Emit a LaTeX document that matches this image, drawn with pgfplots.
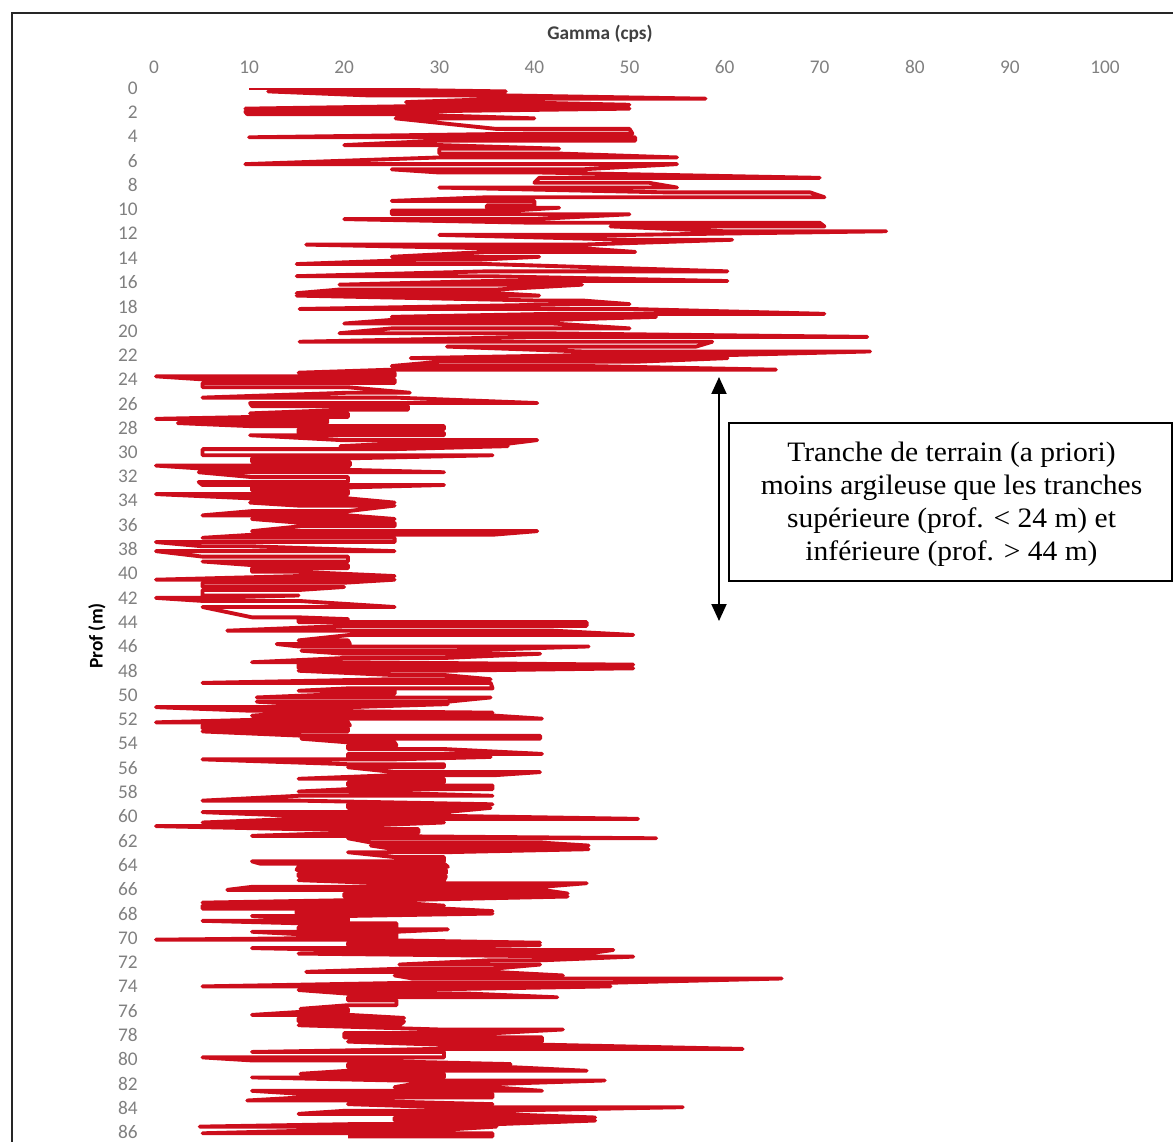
\documentclass[border=0pt]{standalone}
\usepackage{fontspec}
\setmainfont{Liberation Serif}
\newfontfamily\calibri{Carlito}
\usepackage{pgfplots}
\pgfplotsset{compat=1.18}
\usetikzlibrary{arrows.meta}
\definecolor{logred}{RGB}{204,14,28}
\definecolor{ticklab}{RGB}{128,128,128}
\begin{document}
\begin{tikzpicture}
\useasboundingbox (0,0) rectangle (234.6mm,-228.4mm);
\draw[line width=0.45mm, black!85] (2.4mm,-228.4mm) -- (2.4mm,-2.6mm) -- (234.6mm,-2.6mm);
\begin{axis}[
  at={(30.8mm,-17.6mm)}, anchor=north west,
  width=190.2mm, height=210.8mm, scale only axis,
  xmin=0, xmax=100, ymin=0, ymax=86.82, y dir=reverse,
  xtick={0,10,...,100}, ytick={0,2,...,86},
  xticklabel pos=right,
  axis line style={draw=none}, major tick style={draw=none},
  tick label style={font=\calibri\fontsize{11}{13}\selectfont, text=ticklab},
  /pgf/number format/assume math mode=true,
  xticklabel style={yshift=1.6mm},
  yticklabel style={xshift=-2mm},
  clip=true,
]
\addplot[logred, line width=2.2pt, line join=round] coordinates {
(10,0) (12,0) (37,0.28) (12,0.28) (22.5,0.61) (37,0.61) (58,0.88) (37,0.88)
(26.5,1.16) (37,1.16) (50,1.38) (37,1.38) (9.6,1.7) (50,1.7) (25.4,1.95) (9.6,1.95)
(9.8,2.15) (25.4,2.15) (40,2.5) (25.4,2.5) (36,3.37) (50,3.37) (50.3,3.75) (40,3.75)
(10,4.06) (50.6,4.06) (50.6,4.34) (30,4.34) (20,4.7) (30,4.7) (42.6,5.0) (30,5.0)
(30,5.4) (42.6,5.4) (55,5.72) (30,5.72) (9.6,6.27) (55,6.27) (45,6.7) (25,6.7)
(30,6.96) (40.5,6.96) (70,7.4) (40.5,7.4) (40,7.8) (52,7.8) (55,8.2) (30,8.2)
(54,8.6) (69,8.6) (70.5,9.0) (35,9.0) (25,9.3) (40,9.3) (40,9.67) (35,9.67)
(35,9.86) (42.6,9.86) (37.6,10.1) (25,10.1) (25,10.4) (50,10.4) (40,10.8) (20,10.8)
(40,11.1) (70,11.1) (70.5,11.4) (48,11.4) (60,11.8) (77,11.8) (50,12.1) (30,12.1)
(50,12.5) (60.8,12.5) (45,12.9) (16,12.9) (35,13.2) (45,13.2) (50.6,13.5) (35,13.5)
(25,13.9) (40.5,13.9) (34,14.15) (27.6,14.15) (15,14.5) (35,14.5) (60.3,15.1) (35,15.1)
(15,15.5) (35,15.5) (60.3,15.9) (35,15.9) (19.5,16.2) (45,16.2) (36,16.6) (19.5,16.6)
(15,16.9) (36,16.9) (40.5,17.1) (15,17.1) (40,17.5) (45,17.5) (50,17.8) (45,17.8)
(15.3,18.2) (50,18.2) (70.5,18.6) (42,18.6) (25,18.85) (52.8,18.85) (42,19.1) (25,19.1)
(20,19.4) (42,19.4) (50,19.8) (25,19.8) (19.5,20.2) (40.5,20.2) (75,20.5) (40,20.5)
(15.3,20.9) (58.7,20.9) (57,21.3) (30.8,21.3) (45,21.7) (75.3,21.7) (60.3,22.0) (45,22.0)
(27,22.25) (60.3,22.25) (50.6,22.55) (30,22.55) (25,22.9) (45.5,22.9) (65.4,23.2) (25,23.2)
(15.2,23.45) (25.3,23.45) (25.3,23.75) (0.2,23.75) (5.1,24.0) (25.3,24.0) (25.3,24.3) (5.1,24.3)
(5.1,24.65) (20.4,24.65) (26.9,25.1) (20.4,25.1) (5.1,25.5) (25.3,25.5) (40.3,25.95) (10.1,25.95)
(10.3,26.2) (26.7,26.2) (26.7,26.5) (20.4,26.5) (10.1,26.8) (20.4,26.8) (20.4,27.1) (10.1,27.1)
(0.2,27.25) (18.2,27.25) (18.2,27.6) (2.5,27.6) (10.1,27.85) (30.5,27.85) (30.5,28.1) (15.2,28.1)
(15.2,28.4) (30.5,28.4) (30.5,28.6) (10.1,28.6) (19.6,29.0) (40.3,29.0) (37.2,29.3) (25.1,29.3)
(19.6,29.5) (37.2,29.5) (25.1,29.75) (5.1,29.75) (5.1,30.25) (35.6,30.25) (20.6,30.5) (10.3,30.5)
(10.3,30.8) (20.6,30.8) (20.6,31.1) (0.2,31.1) (5.1,31.35) (15.2,31.35) (30.5,31.65) (4.7,31.65)
(10.3,32.05) (20.4,32.05) (20.4,32.45) (4.7,32.45) (5.1,32.7) (30.5,32.7) (20.4,32.9) (10.3,32.9)
(10.3,33.15) (20.4,33.15) (20.4,33.45) (0.2,33.45) (10.1,33.8) (20.4,33.8) (25.3,34.15) (10.1,34.15)
(15.2,34.4) (25.3,34.4) (20.4,34.85) (10.3,34.85) (5.1,35.2) (20.4,35.2) (25.3,35.5) (10.3,35.5)
(15.2,35.8) (25.3,35.8) (25.3,36.1) (15.4,36.1) (10.3,36.5) (40.3,36.5) (35.6,36.8) (10.3,36.8)
(5.1,37.05) (25.3,37.05) (25.3,37.4) (0.2,37.4) (5.1,37.75) (10.3,37.75) (25.3,38.15) (0.2,38.15)
(5.1,38.6) (20.4,38.6) (20.4,39.0) (5.1,39.0) (10.3,39.3) (20.4,39.3) (20.4,39.55) (10.3,39.55)
(10.3,39.85) (15.2,39.85) (25.3,40.2) (15.2,40.2) (0.2,40.5) (25.3,40.5) (20,40.75) (5.1,40.75)
(5.1,41.1) (20,41.1) (15.2,41.35) (5.1,41.35) (5.1,41.8) (15.2,41.8) (5.1,42.0) (0.2,42.0)
(5.1,42.25) (15.2,42.25) (25.3,42.75) (5.1,42.75) (10.3,43.6) (15.2,43.6) (20.4,43.75) (15.2,43.75)
(15.2,44.0) (45.5,44.0) (45.5,44.3) (20.4,44.3) (7.7,44.7) (42,44.7) (50.4,45.05) (20.6,45.05)
(15.2,45.5) (20.4,45.5) (20.6,45.8) (12.9,45.8) (15.2,46.0) (45.7,46.0) (31.8,46.35) (15.5,46.35)
(20,46.6) (40.6,46.6) (30.5,46.95) (20,46.95) (10.3,47.3) (20.4,47.3) (50.4,47.5) (15.2,47.5)
(15.2,47.8) (50.4,47.8) (30.5,48.0) (15.2,48.0) (25,48.35) (30.5,48.35) (35.4,48.7) (25,48.7)
(5.1,49.0) (35.4,49.0) (35.6,49.45) (20.4,49.45) (15.2,49.65) (25.3,49.65) (25.3,49.9) (20.4,49.9)
(10.8,50.2) (35.4,50.2) (30.9,50.55) (10.8,50.55) (15.2,50.75) (30.9,50.75) (20.6,51.0) (0.2,51.0)
(10.3,51.3) (15,51.3) (35.6,51.45) (15,51.45) (10.3,51.7) (35.9,51.7) (40.8,51.95) (15.2,51.95)
(0.2,52.25) (20.4,52.25) (20.6,52.5) (5.1,52.5) (5.1,52.75) (20.4,52.75) (20.4,53.0) (5.1,53.0)
(15.5,53.35) (40.6,53.35) (40.6,53.6) (15.5,53.6) (20.4,53.9) (25.3,53.9) (25.5,54.15) (20.4,54.15)
(20.4,54.45) (30.5,54.45) (40.8,54.85) (20.4,54.85) (20.4,55.1) (35.4,55.1) (25.3,55.3) (5.1,55.3)
(20.4,55.7) (30.5,55.7) (30.5,55.95) (20.4,55.95) (25.3,56.35) (40.6,56.35) (35.9,56.6) (25.3,56.6)
(15.2,56.9) (30.5,56.9) (30.5,57.2) (20.4,57.2) (20.4,57.45) (35.6,57.45) (35.6,57.75) (20.4,57.75)
(15.2,57.95) (20.4,57.95) (35.6,58.3) (15.2,58.3) (5.1,58.7) (15.2,58.7) (35.6,59.0) (20.4,59.0)
(20.4,59.3) (35.4,59.3) (30.5,59.65) (5.1,59.65) (15,59.95) (30.5,59.95) (50.9,60.2) (15,60.2)
(5.1,60.5) (30.5,60.5) (20.6,60.8) (0.2,60.8) (15.2,61.05) (27.8,61.05) (27.8,61.35) (20.4,61.35)
(10.3,61.6) (20.4,61.6) (52.8,61.8) (20.4,61.8) (22.8,62.15) (40.6,62.15) (45.7,62.4) (22.8,62.4)
(25.3,62.7) (45.7,62.7) (30.5,62.95) (20.4,62.95) (25.3,63.35) (30.5,63.35) (30.5,63.7) (10.3,63.7)
(11.2,63.9) (30.5,63.9) (30.9,64.15) (15.2,64.15) (15,64.4) (30.7,64.4) (30.7,64.7) (15.2,64.7)
(15.2,64.95) (30.7,64.95) (30.5,65.25) (15.2,65.25) (24.2,65.5) (45.5,65.5) (40.8,65.8) (10.3,65.8)
(7.7,66.05) (40.8,66.05) (43.5,66.35) (20,66.35) (20,66.6) (43.5,66.6) (25.5,66.9) (20.4,66.9)
(5.1,67.1) (25.5,67.1) (30.5,67.35) (5.1,67.35) (5.1,67.6) (30.7,67.6) (35.6,67.8) (15,67.8)
(15,68.0) (35.6,68.0) (20.4,68.2) (10.3,68.2) (15.2,68.4) (20.4,68.4) (20.4,68.6) (5.1,68.6)
(15.2,68.8) (25.5,68.8) (25.5,69.1) (15.2,69.1) (15.2,69.3) (30.9,69.3) (25.5,69.5) (10.3,69.5)
(15.2,69.7) (25.5,69.7) (25.5,70.0) (20.4,70.0) (0.2,70.15) (20.4,70.15) (40.6,70.4) (20.4,70.4)
(20.4,70.6) (40.6,70.6) (20.4,70.85) (10.3,70.85) (20.4,71.0) (48.3,71.0) (45.5,71.3) (15.2,71.3)
(45.5,71.55) (50.4,71.55) (40.8,71.85) (35.4,71.85) (25.8,72.2) (40.6,72.2) (35.6,72.55) (25.8,72.55)
(16,72.8) (35.6,72.8) (43,73.1) (25.3,73.1) (27.2,73.35) (66,73.35) (48,73.7) (27.2,73.7)
(5.1,74.0) (48,74.0) (25.3,74.3) (15.2,74.3) (20.4,74.6) (33.3,74.6) (42.4,74.9) (20.4,74.9)
(20.4,75.15) (25.5,75.15) (25.5,75.55) (20.4,75.55) (15.4,75.85) (20.4,75.85) (20.4,76.1) (15.4,76.1)
(10.3,76.35) (20.6,76.35) (26.3,76.6) (15.2,76.6) (15.2,76.9) (26.3,76.9) (25.8,77.2) (15.2,77.2)
(30,77.55) (43,77.55) (35.9,77.85) (20,77.85) (20,78.2) (40.8,78.2) (40.8,78.55) (20.4,78.55)
(30,78.8) (40.8,78.8) (61.9,79.15) (30,79.15) (10.3,79.4) (30.5,79.4) (30.5,79.85) (5.1,79.85)
(10.3,80.1) (20.4,80.1) (37.5,80.4) (20.4,80.4) (20.4,80.65) (37.5,80.65) (45.5,80.95) (20.4,80.95)
(15.4,81.2) (30.5,81.2) (30.5,81.5) (10.3,81.5) (25.3,81.75) (47.4,81.75) (35.4,82.05) (27.2,82.05)
(25.3,82.3) (35.4,82.3) (40.8,82.6) (10.3,82.6) (15.4,82.85) (35.6,82.85) (35.6,83.15) (15.4,83.15)
(9.8,83.4) (20.4,83.4) (35.6,83.7) (20.4,83.7) (30.5,83.95) (55.6,83.95) (35.6,84.25) (20,84.25)
(15.2,84.5) (35.6,84.5) (46.4,84.8) (25.3,84.8) (25.3,85.05) (46.4,85.05) (36,85.35) (20.4,85.35)
(4.8,85.55) (36,85.55) (30.7,85.8) (20.4,85.8) (5.1,86.1) (35.6,86.1) (35.6,86.35) (20.4,86.35)
};
\end{axis}
\node[font=\calibri\bfseries\fontsize{11}{13}\selectfont, text=black!75] at (120mm,-6.8mm) {Gamma (cps)};
\node[rotate=90, font=\calibri\bfseries\fontsize{11}{13}\selectfont, text=black] at (19.4mm,-127.2mm) {Prof (m)};
\draw[line width=0.4mm, {Triangle[length=3.4mm,width=3mm]}-{Triangle[length=3.4mm,width=3mm]}] (143.8mm,-75.4mm) -- (143.8mm,-124.2mm);
\draw[line width=0.4mm] (145.8mm,-84.6mm) rectangle (234.3mm,-116.2mm);
\node[align=center, xscale=1.05, transform shape, font=\fontsize{16}{18.7}\selectfont] at (190.3mm,-100.8mm) {Tranche de terrain (a priori)\\moins argileuse que les tranches\\supérieure (prof. < 24 m) et\\inférieure (prof. > 44 m)};
\end{tikzpicture}
\end{document}
